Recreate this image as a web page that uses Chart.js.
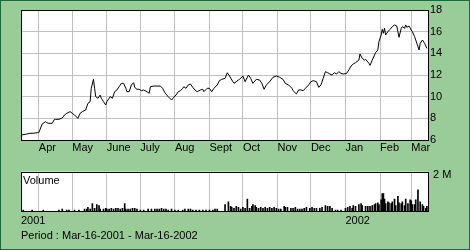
<!DOCTYPE html>
<html>
<head>
<meta charset="utf-8">
<script src="https://cdn.jsdelivr.net/npm/chart.js@4"></script>
<style>
body{margin:0}
#wrap{position:relative;width:470px;height:250px;background:#99CC99;box-shadow:inset 0 0 0 1px #1b6b3a;overflow:hidden}
#wrap canvas{position:absolute;left:0}
#priceCanvas{top:0}
#volCanvas{top:160px}
</style>
</head>
<body>
<div id="wrap">
<canvas id="priceCanvas" width="470" height="160"></canvas>
<canvas id="volCanvas" width="470" height="90"></canvas>
</div>
<script>
// days counted from Mar-16-2001
const monthDays = [16, 46, 77, 107, 138, 169, 199, 230, 260, 291, 322, 350]
const monthLabels = ["Apr", "May", "June", "July", "Aug", "Sept", "Oct", "Nov", "Dec", "Jan", "Feb", "Mar"]
const yearDays = [0, 291]
const yearLabels = ["2001", "2002"]
const priceTicks = [6, 8, 10, 12, 14, 16, 18]

const priceDays = [0,5,8,11,15,16,19,22,23,25,28,30,31,34,37,39,41,44,46,48,51,53,55,58,60,62,63,65,66,67,69,71,72,74,76,77,80,82,84,86,88,90,92,94,95,97,99,101,102,104,106,108,110,113,115,116,119,122,125,127,129,132,135,137,139,141,143,145,146,148,150,152,154,156,158,161,163,164,167,169,171,173,176,178,180,183,185,187,190,191,193,195,196,199,201,204,206,208,211,214,216,218,220,223,226,229,232,235,237,240,243,244,247,249,251,253,255,258,260,262,265,267,269,271,273,275,277,279,281,283,285,287,289,292,294,296,298,300,303,304,306,308,309,312,313,315,318,320,321,323,324,325,326,327,329,331,333,335,337,338,339,341,342,344,345,346,348,350,351,353,355,357,358,360,362,364]
const prices = [6.46,6.55,6.62,6.62,6.68,6.68,7.48,7.69,7.6,7.54,7.54,7.91,7.91,7.91,8.03,8.31,8.46,8.62,8.46,8.31,8.0,8.46,8.62,8.77,9.38,9.54,10.77,11.6,10.77,10.0,9.85,10.15,9.85,9.54,9.23,9.54,10.0,9.85,10.46,10.62,10.92,11.23,11.23,10.77,10.46,10.46,11.08,11.29,10.86,10.68,10.68,10.55,10.62,10.46,10.31,10.92,10.98,10.98,10.98,10.77,10.37,10.0,9.69,9.94,10.15,10.46,10.55,10.77,10.92,10.77,11.08,11.17,10.86,10.62,10.46,10.62,10.68,10.46,10.77,10.77,10.46,10.77,11.08,11.48,11.6,11.69,12.21,11.91,11.38,11.23,11.38,11.54,11.6,11.91,11.38,12.0,11.69,11.23,11.6,11.54,11.23,10.68,11.08,11.38,11.79,11.91,11.79,11.6,11.23,11.08,10.77,10.55,10.25,10.62,10.62,10.55,10.77,11.08,11.38,11.48,11.38,10.86,11.08,11.69,12.31,12.21,12.09,12.0,12.21,12.09,12.31,12.15,12.09,12.15,12.46,12.83,13.02,13.14,13.38,13.94,13.54,13.38,13.45,13.08,12.89,13.38,14.06,14.31,15.08,15.69,16.22,15.85,16.31,15.69,16.0,16.22,16.46,16.62,16.52,16.0,15.48,16.31,16.46,16.31,16.62,16.4,16.52,16.15,16.0,15.54,14.92,14.31,14.92,15.23,14.92,14.46]

// volume in thousands of shares
const volumeDays = [2,10,20,34,37,41,43,48,52,57,59,60,62,64,66,68,70,71,74,76,77,79,81,83,85,87,89,91,93,94,96,98,100,102,104,107,110,114,117,120,122,124,126,128,130,132,135,138,141,145,147,150,152,154,157,160,163,166,169,172,174,176,183,186,188,189,191,193,195,197,199,201,203,205,207,208,210,211,213,215,217,219,221,223,225,227,229,231,233,236,237,239,242,244,246,248,250,252,254,256,259,261,263,265,268,270,273,275,277,279,282,284,287,291,293,295,297,298,300,303,305,306,309,311,313,315,317,318,320,321,323,324,325,326,327,329,330,332,333,335,336,338,339,341,342,344,345,347,349,350,351,353,354,356,358,360,361,363,364]
const volumes = [47,47,47,47,94,47,47,47,47,94,94,187,94,375,140,328,281,94,94,140,94,94,140,94,140,140,94,140,375,94,94,94,140,140,94,47,47,94,94,94,94,94,140,94,94,47,94,47,47,47,94,94,94,47,47,47,47,47,47,47,94,94,328,468,234,187,140,234,187,94,187,140,608,140,234,328,281,187,140,187,140,187,140,187,140,187,140,94,94,234,187,187,140,140,187,94,94,94,140,187,140,187,140,140,140,187,281,234,234,140,47,47,47,140,187,234,140,281,234,328,375,281,234,234,234,281,328,375,421,328,562,889,889,608,375,468,421,375,468,608,281,749,421,375,468,281,608,375,562,515,328,328,562,1076,468,328,234,140,234]

Chart.defaults.font.family = "'Liberation Sans', Arial, sans-serif"
Chart.defaults.font.size = 11
Chart.defaults.color = "#000"

const gridColor = "#c0c0c0"

// white plot area and black frame round it
const frame = {
    id: "frame",
    beforeDraw(chart){
        const {ctx, chartArea: a} = chart
        ctx.save()
        ctx.fillStyle = "#fff"
        ctx.fillRect(a.left, a.top, a.right - a.left, a.bottom - a.top)
        ctx.restore()
    },
    afterDatasetsDraw(chart){
        const {ctx, chartArea: a} = chart
        ctx.save()
        ctx.strokeStyle = "#000"
        ctx.lineWidth = 1
        ctx.strokeRect(Math.round(a.left) + 0.5, Math.round(a.top) + 0.5, Math.round(a.right - a.left), Math.round(a.bottom - a.top))
        ctx.restore()
    }
}

new Chart(document.querySelector("#priceCanvas"), {
    type: "line",
    data: {
        datasets: [{
            data: priceDays.map((d, i) => ({x: d, y: prices[i]})),
            borderColor: "#000",
            borderWidth: 1,
            pointRadius: 0,
            tension: 0
        }]
    },
    options: {
        responsive: false,
        animation: false,
        layout: {padding: {left: 21, top: 10, right: 0, bottom: 0}},
        plugins: {legend: {display: false}, tooltip: {enabled: false}},
        scales: {
            x: {
                type: "linear",
                min: 0,
                max: 365,
                afterBuildTicks: s => { s.ticks = monthDays.map(v => ({value: v})) },
                afterFit: s => { s.height = 20 },
                grid: {color: gridColor, drawTicks: false},
                border: {display: false},
                ticks: {
                    autoSkip: false,
                    maxRotation: 0,
                    align: "start",
                    padding: 1,
                    callback: (v, i) => monthLabels[i]
                }
            },
            y: {
                position: "right",
                min: 6,
                max: 18,
                afterBuildTicks: s => { s.ticks = priceTicks.map(v => ({value: v})) },
                afterFit: s => { s.width = 42 },
                grid: {color: gridColor, drawTicks: false},
                border: {display: false},
                ticks: {padding: 2}
            }
        }
    },
    plugins: [frame]
})

new Chart(document.querySelector("#volCanvas"), {
    type: "bar",
    data: {
        datasets: [{
            data: volumeDays.map((d, i) => ({x: d, y: volumes[i]})),
            backgroundColor: "#000",
            barThickness: 1,
            grouped: false
        }]
    },
    options: {
        responsive: false,
        animation: false,
        layout: {padding: {left: 21, top: 8, right: 0, bottom: 0}},
        plugins: {legend: {display: false}, tooltip: {enabled: false}},
        scales: {
            x: {
                type: "linear",
                min: 0,
                max: 365,
                offset: false,
                afterBuildTicks: s => { s.ticks = [0, ...monthDays].map(v => ({value: v})) },
                afterFit: s => { s.height = 39 },
                grid: {color: gridColor, drawTicks: false, offset: false},
                border: {display: false},
                ticks: {
                    autoSkip: false,
                    maxRotation: 0,
                    align: "start",
                    padding: 3,
                    callback: v => {
                        const i = yearDays.indexOf(v)
                        return i >= 0 ? yearLabels[i] : ""
                    }
                }
            },
            y: {
                position: "right",
                min: 0,
                max: 2000,
                afterBuildTicks: s => { s.ticks = [{value: 2000}] },
                afterFit: s => { s.width = 42 },
                grid: {display: false, drawTicks: false},
                border: {display: false},
                ticks: {padding: 5, labelOffset: 3, callback: () => "2 M"}
            }
        }
    },
    plugins: [frame, {
        id: "texts",
        afterDraw(chart){
            const {ctx, chartArea: a} = chart
            ctx.save()
            ctx.fillStyle = "#000"
            ctx.font = "11px 'Liberation Sans', Arial, sans-serif"
            ctx.textBaseline = "alphabetic"
            ctx.fillText("Volume", a.left + 2, a.top + 12)
            ctx.fillText("Period : Mar-16-2001 - Mar-16-2002", 21, 79)
            ctx.restore()
        }
    }]
})
</script>
</body>
</html>
